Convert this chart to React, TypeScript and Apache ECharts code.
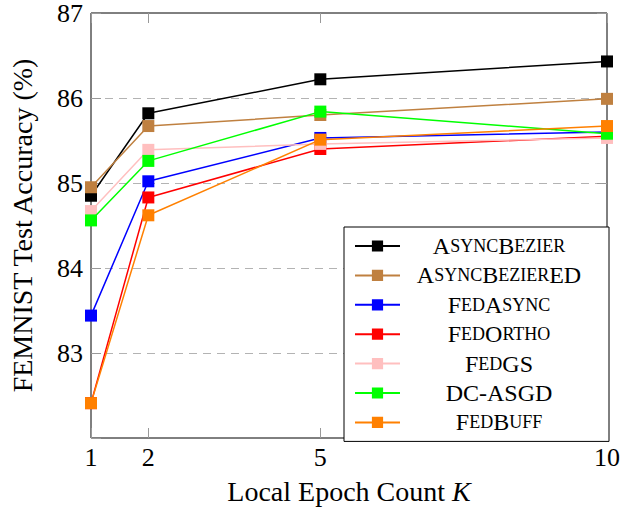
import React, { useEffect, useRef } from 'react';
import * as echarts from 'echarts';

const epochs = [1, 2, 5, 10];
const seriesNames = ['AsyncBezier', 'AsyncBezierED', 'FedAsync', 'FedOrtho', 'FedGS', 'DC-ASGD', 'FedBuff'];
const asyncBezier = [84.85, 85.82, 86.22, 86.43];
const asyncBezierED = [84.95, 85.67, 85.8, 85.99];
const fedAsync = [83.44, 85.02, 85.53, 85.6];
const fedOrtho = [82.41, 84.83, 85.4, 85.55];
const fedGS = [84.67, 85.39, 85.46, 85.53];
const dcAsgd = [84.56, 85.26, 85.84, 85.58];
const fedBuff = [82.41, 84.62, 85.51, 85.67];
const seriesColors = ['#000000', '#bf8040', '#0000ff', '#ff0000', '#ffbfbf', '#00ff00', '#ff8000'];
const yMin = 82;
const yMax = 87;

const FONT = 'Liberation Serif';

function smallCaps(name: string): string {
  let out = '';
  let i = 0;
  while (i < name.length) {
    const lower = name[i] !== name[i].toUpperCase();
    let j = i;
    while (j < name.length && (name[j] !== name[j].toUpperCase()) === lower) j++;
    const seg = name.slice(i, j);
    out += lower ? `{s|${seg.toUpperCase()}}` : `{b|${seg}}`;
    i = j;
  }
  return out;
}

export default function App() {
  const ref = useRef<HTMLDivElement>(null);
  useEffect(() => {
    if (!ref.current) return;
    const chart = echarts.init(ref.current, undefined, { renderer: 'svg' });
    const allData = [asyncBezier, asyncBezierED, fedAsync, fedOrtho, fedGS, dcAsgd, fedBuff];
    const tickStyle = { show: true, inside: true, length: 10, lineStyle: { color: '#999999', width: 1 } };
    chart.setOption({
      animation: false,
      textStyle: { fontFamily: FONT },
      grid: {
        show: true,
        left: 90,
        right: 15,
        top: 13,
        bottom: 67,
        borderColor: '#000',
        borderWidth: 1,
        backgroundColor: 'transparent',
      },
      legend: {
        orient: 'vertical',
        left: 344,
        top: 227,
        data: seriesNames,
        itemWidth: 45,
        itemHeight: 14,
        itemGap: 5.4,
        padding: [7, 16, 7, 10],
        backgroundColor: '#fff',
        borderColor: '#000',
        borderWidth: 1,
        borderRadius: 0,
        selectedMode: false,
        formatter: smallCaps,
        textStyle: {
          width: 188,
          lineHeight: 24,
          fontFamily: FONT,
          color: '#000',
          rich: {
            b: { fontSize: 24, fontFamily: FONT, color: '#000', align: 'center' },
            s: { fontSize: 18, fontFamily: FONT, color: '#000', align: 'center' },
          },
        },
      },
      xAxis: [
        {
          type: 'value',
          min: 1,
          max: 10,
          position: 'bottom',
          axisLine: { show: false },
          axisTick: { ...tickStyle, customValues: epochs },
          axisLabel: { customValues: epochs, fontSize: 26, fontFamily: FONT, color: '#000', margin: 6 },
          splitLine: { show: false },
          name: '{n|Local Epoch Count }{i|K}',
          nameLocation: 'middle',
          nameGap: 39,
          nameTextStyle: {
            fontSize: 28,
            fontFamily: FONT,
            color: '#000',
            rich: {
              n: { fontSize: 28, fontFamily: FONT, color: '#000' },
              i: { fontStyle: 'italic', fontSize: 28, fontFamily: FONT, color: '#000' },
            },
          },
        },
        {
          type: 'value',
          min: 1,
          max: 10,
          position: 'top',
          axisLine: { show: false },
          axisTick: { ...tickStyle, customValues: epochs },
          axisLabel: { show: false },
          splitLine: { show: false },
        },
      ],
      yAxis: [
        {
          type: 'value',
          min: yMin,
          max: yMax,
          interval: 1,
          position: 'left',
          axisLine: { show: false },
          axisTick: tickStyle,
          axisLabel: {
            fontSize: 26,
            fontFamily: FONT,
            color: '#000',
            margin: 8,
            formatter: (v: number) => (v === yMin ? '' : String(v)),
          },
          splitLine: {
            show: true,
            showMinLine: false,
            showMaxLine: false,
            lineStyle: { type: [8, 6], color: '#b3b3b3', width: 1 },
          },
          name: 'FEMNIST Test Accuracy (%)',
          nameLocation: 'middle',
          nameGap: 55,
          nameRotate: 90,
          nameTextStyle: { fontSize: 28, fontFamily: FONT, color: '#000' },
        },
        {
          type: 'value',
          min: yMin,
          max: yMax,
          interval: 1,
          position: 'right',
          axisLine: { show: false },
          axisTick: tickStyle,
          axisLabel: { show: false },
          splitLine: { show: false },
        },
      ],
      series: seriesNames.map((name, idx) => ({
        name,
        type: 'line',
        xAxisIndex: 0,
        yAxisIndex: 0,
        data: epochs.map((x, k) => [x, allData[idx][k]]),
        symbol: 'rect',
        symbolSize: 12,
        clip: false,
        color: seriesColors[idx],
        lineStyle: { color: seriesColors[idx], width: 1.5 },
        itemStyle: { color: seriesColors[idx] },
        z: 2 + idx * 0.01,
      })),
    });
    return () => chart.dispose();
  }, []);
  return <div ref={ref} style={{ width: 623, height: 510, position: 'absolute', left: 0, top: 0 }} />;
}
